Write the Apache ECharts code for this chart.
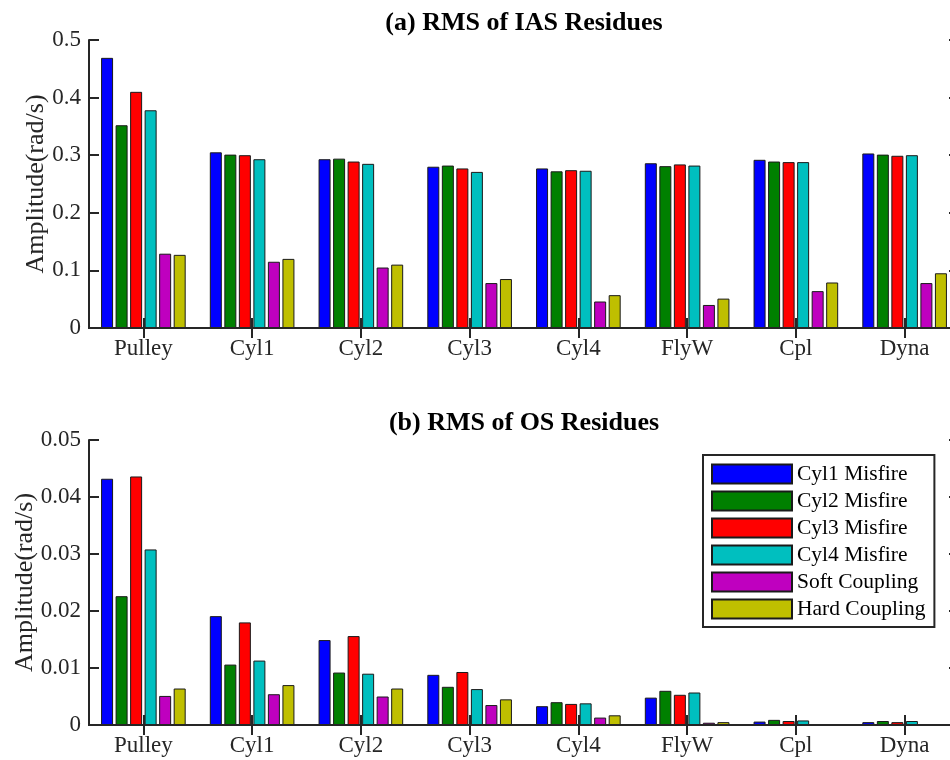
<!DOCTYPE html>
<html>
<head>
<meta charset="utf-8">
<script src="https://cdn.jsdelivr.net/npm/echarts@6/dist/echarts.min.js"></script>
<style>html,body{margin:0;padding:0;background:#fff}#c{width:950px;height:760px}</style>
</head>
<body>
<div id="c"></div>
<script>
var categories = ['Pulley','Cyl1','Cyl2','Cyl3','Cyl4','FlyW','Cpl','Dyna'];
var seriesNames = ['Cyl1 Misfire','Cyl2 Misfire','Cyl3 Misfire','Cyl4 Misfire','Soft Coupling','Hard Coupling'];
var colors = ['#0000ff','#008000','#ff0000','#00bfbf','#bf00bf','#bfbf00'];

// (a) RMS of IAS Residues
var iasCyl1 = [0.469,0.305,0.293,0.280,0.277,0.286,0.292,0.303];
var iasCyl2 = [0.352,0.301,0.294,0.282,0.272,0.281,0.289,0.301];
var iasCyl3 = [0.410,0.300,0.289,0.277,0.274,0.284,0.288,0.299];
var iasCyl4 = [0.378,0.293,0.285,0.271,0.273,0.282,0.288,0.300];
var iasSoft = [0.129,0.115,0.105,0.078,0.046,0.040,0.064,0.078];
var iasHard = [0.127,0.120,0.110,0.085,0.057,0.051,0.079,0.095];

// (b) RMS of OS Residues
var osCyl1 = [0.0432,0.0191,0.0149,0.0088,0.0033,0.0048,0.0006,0.0005];
var osCyl2 = [0.0226,0.0106,0.0092,0.0067,0.0040,0.0060,0.0009,0.0007];
var osCyl3 = [0.0436,0.0180,0.0156,0.0093,0.0037,0.0053,0.0007,0.0005];
var osCyl4 = [0.0308,0.0113,0.0090,0.0063,0.0038,0.0057,0.0008,0.0007];
var osSoft = [0.0051,0.0054,0.0050,0.0035,0.0013,0.0004,0.00005,0.00005];
var osHard = [0.0064,0.0070,0.0064,0.0045,0.0017,0.0005,0.00005,0.00005];

var iasData = [iasCyl1,iasCyl2,iasCyl3,iasCyl4,iasSoft,iasHard];
var osData = [osCyl1,osCyl2,osCyl3,osCyl4,osSoft,osHard];

var FONT = 'Liberation Serif';
var AX = '#262626';

function xAx(gi, pos) {
  var bottom = pos === 'bottom';
  return {
    type: 'category', gridIndex: gi, position: pos, data: categories, z: 5,
    axisLine: {show: true, lineStyle: {color: AX, width: 2}},
    axisTick: {show: true, inside: true, length: 10, alignWithLabel: true, lineStyle: {color: AX, width: 2}},
    axisLabel: {show: bottom, color: AX, fontFamily: FONT, fontSize: 23, margin: 9},
    splitLine: {show: false}
  };
}
function yAx(gi, pos, max, interval, nameGap) {
  var left = pos === 'left';
  return {
    type: 'value', gridIndex: gi, position: pos, min: 0, max: max, interval: interval, z: 5,
    name: left ? 'Amplitude(rad/s)' : '', nameLocation: 'middle', nameGap: nameGap,
    nameMoveOverlap: false,
    nameTextStyle: {color: AX, fontFamily: FONT, fontSize: 26},
    axisLine: {show: true, lineStyle: {color: AX, width: 2}},
    axisTick: {show: true, inside: true, length: 10, lineStyle: {color: AX, width: 2}},
    axisLabel: {show: left, color: AX, fontFamily: FONT, fontSize: 23, margin: 8},
    splitLine: {show: false}
  };
}

var series = [];
function addSeries(data, xi, yi) {
  for (var i = 0; i < data.length; i++) {
    series.push({
      name: seriesNames[i], type: 'bar', xAxisIndex: xi, yAxisIndex: yi,
      data: data[i], barWidth: 12, barGap: '21%',
      itemStyle: {color: colors[i], borderColor: '#1a1a1a', borderWidth: 1},
      emphasis: {disabled: true}
    });
  }
}
addSeries(iasData, 0, 0);
addSeries(osData, 2, 2);

var option = {
  animation: false,
  backgroundColor: '#fff',
  title: [
    {text: '(a) RMS of IAS Residues', left: 524, top: 10, textAlign: 'center', padding: 0,
     textStyle: {fontFamily: FONT, fontWeight: 'bold', fontSize: 26, color: '#000'}},
    {text: '(b) RMS of OS Residues', left: 524, top: 410, textAlign: 'center', padding: 0,
     textStyle: {fontFamily: FONT, fontWeight: 'bold', fontSize: 26, color: '#000'}}
  ],
  grid: [
    {left: 89, top: 40, width: 870, height: 288, containLabel: false, outerBoundsMode: 'none'},
    {left: 89, top: 440, width: 870, height: 285, containLabel: false, outerBoundsMode: 'none'}
  ],
  xAxis: [xAx(0,'bottom'), xAx(0,'top'), xAx(1,'bottom'), xAx(1,'top')],
  yAxis: [yAx(0,'left',0.5,0.1,40), yAx(0,'right',0.5,0.1,0), yAx(1,'left',0.05,0.01,51), yAx(1,'right',0.05,0.01,0)],
  legend: {
    orient: 'vertical', left: 703, top: 455, data: seriesNames,
    icon: 'rect', itemWidth: 80, itemHeight: 19, itemGap: 5,
    padding: [8, 9, 7, 8],
    backgroundColor: '#fff', borderColor: AX, borderWidth: 2,
    textStyle: {fontFamily: FONT, fontSize: 21.5, color: '#000'},
    selectedMode: false
  },
  series: series
};
var chart = echarts.init(document.getElementById('c'), null, {renderer: 'canvas'});
chart.setOption(option);
</script>
</body>
</html>
